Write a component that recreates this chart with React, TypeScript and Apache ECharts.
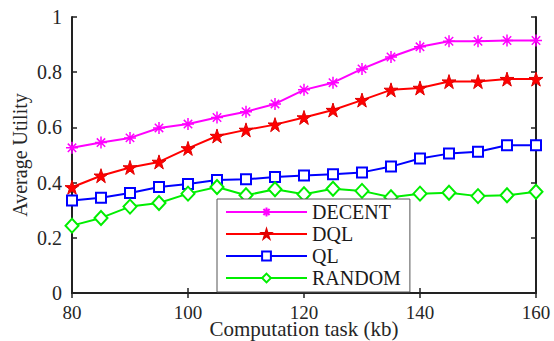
import React, { useEffect, useRef } from "react";
import * as echarts from "echarts";

const tasks = [80, 85, 90, 95, 100, 105, 110, 115, 120, 125, 130, 135, 140, 145, 150, 155, 160];
const decent = [0.526, 0.545, 0.562, 0.598, 0.612, 0.636, 0.657, 0.685, 0.736, 0.762, 0.812, 0.855, 0.892, 0.912, 0.912, 0.915, 0.915];
const dql = [0.383, 0.425, 0.455, 0.475, 0.524, 0.569, 0.591, 0.61, 0.636, 0.663, 0.699, 0.736, 0.743, 0.766, 0.766, 0.775, 0.775];
const ql = [0.335, 0.345, 0.362, 0.384, 0.395, 0.409, 0.412, 0.42, 0.426, 0.43, 0.437, 0.458, 0.487, 0.505, 0.512, 0.535, 0.535];
const random = [0.244, 0.272, 0.313, 0.326, 0.36, 0.384, 0.354, 0.376, 0.358, 0.378, 0.37, 0.347, 0.36, 0.363, 0.351, 0.354, 0.367];
const seriesNames = ["DECENT", "DQL", "QL", "RANDOM"];

const FONT = "'Liberation Serif', 'Times New Roman', serif";
const TXT = "#262626";
const AX = "#222";

const STAR =
  "path://M100 0 L122.45 69.1 L195.1 69.1 L136.3 111.8 L158.8 180.9 L100 138.2 L41.2 180.9 L63.7 111.8 L4.9 69.1 L77.55 69.1 Z";
const ASTER = "path://M10 0 L10 20 M0 10 L20 10 M3 3 L17 17 M3 17 L17 3";

const pair = (ys: number[]) => tasks.map((x, i) => [x, ys[i]]);

export default function App() {
  const ref = useRef<HTMLDivElement>(null);
  useEffect(() => {
    if (!ref.current) return;
    const chart = echarts.init(ref.current, null, { renderer: "svg" });
    const xCommon = {
      type: "value" as const,
      min: 80,
      max: 160,
      interval: 20,
      splitLine: { show: false },
      axisLine: { show: true, lineStyle: { color: AX, width: 2 } },
      axisTick: { show: true, inside: true, length: 5, lineStyle: { color: AX, width: 1.5 } },
    };
    const yCommon = {
      type: "value" as const,
      min: 0,
      max: 1,
      interval: 0.2,
      splitLine: { show: false },
      axisLine: { show: true, lineStyle: { color: AX, width: 2 } },
      axisTick: { show: true, inside: true, length: 5, lineStyle: { color: AX, width: 1.5 } },
    };
    const lbl = { fontFamily: FONT, fontSize: 20, color: TXT };
    chart.setOption({
      animation: false,
      backgroundColor: "#fff",
      grid: { left: 72, right: 18, top: 17, bottom: 48, containLabel: false, outerBoundsMode: "none" },
      xAxis: [
        {
          ...xCommon,
          position: "bottom",
          name: "Computation task (kb)",
          nameLocation: "middle",
          nameGap: 25,
          nameMoveOverlap: false,
          nameTextStyle: { ...lbl, fontSize: 21, lineHeight: 21 },
          axisLabel: { ...lbl, fontSize: 19, lineHeight: 19, margin: 10 },
        },
        { ...xCommon, position: "top", axisLabel: { show: false } },
      ],
      yAxis: [
        {
          ...yCommon,
          position: "left",
          name: "Average Utility",
          nameLocation: "middle",
          nameGap: 42,
          nameMoveOverlap: false,
          nameTextStyle: lbl,
          axisLabel: { ...lbl, margin: 10 },
        },
        { ...yCommon, position: "right", axisLabel: { show: false } },
      ],
      legend: {
        orient: "vertical",
        left: 217,
        top: 199,
        padding: [3, 9, 4, 8],
        itemWidth: 81,
        itemHeight: 11,
        itemGap: 2,
        backgroundColor: "#fff",
        borderColor: "#555",
        borderWidth: 1,
        borderRadius: 0,
        data: seriesNames,
        textStyle: { ...lbl, color: "#1a1a1a", lineHeight: 20 },
      },
      series: [
        {
          name: seriesNames[0],
          type: "line",
          data: pair(decent),
          color: "#ff00ff",
          symbol: ASTER,
          symbolSize: 12,
          lineStyle: { width: 2, color: "#ff00ff" },
          itemStyle: { color: "#ff00ff", borderColor: "#ff00ff", borderWidth: 1.5 },
        },
        {
          name: seriesNames[1],
          type: "line",
          data: pair(dql),
          color: "#ff0000",
          symbol: STAR,
          symbolSize: 14,
          lineStyle: { width: 2, color: "#ff0000" },
          itemStyle: { color: "#ff0000", borderColor: "#e00000", borderWidth: 1 },
        },
        {
          name: seriesNames[2],
          type: "line",
          data: pair(ql),
          color: "#0000ff",
          symbol: "emptyRect",
          symbolSize: 10,
          lineStyle: { width: 2, color: "#0000ff" },
          itemStyle: { color: "#0000ff", borderColor: "#0000ff", borderWidth: 1.6 },
        },
        {
          name: seriesNames[3],
          type: "line",
          data: pair(random),
          color: "#00ee00",
          symbol: "emptyDiamond",
          symbolSize: [13, 14],
          lineStyle: { width: 2, color: "#00ee00" },
          itemStyle: { color: "#00ee00", borderColor: "#00ee00", borderWidth: 1.6 },
        },
      ],
    });
    return () => chart.dispose();
  }, []);
  return <div ref={ref} style={{ width: 554, height: 341, position: "absolute", left: 0, top: 0 }} />;
}
